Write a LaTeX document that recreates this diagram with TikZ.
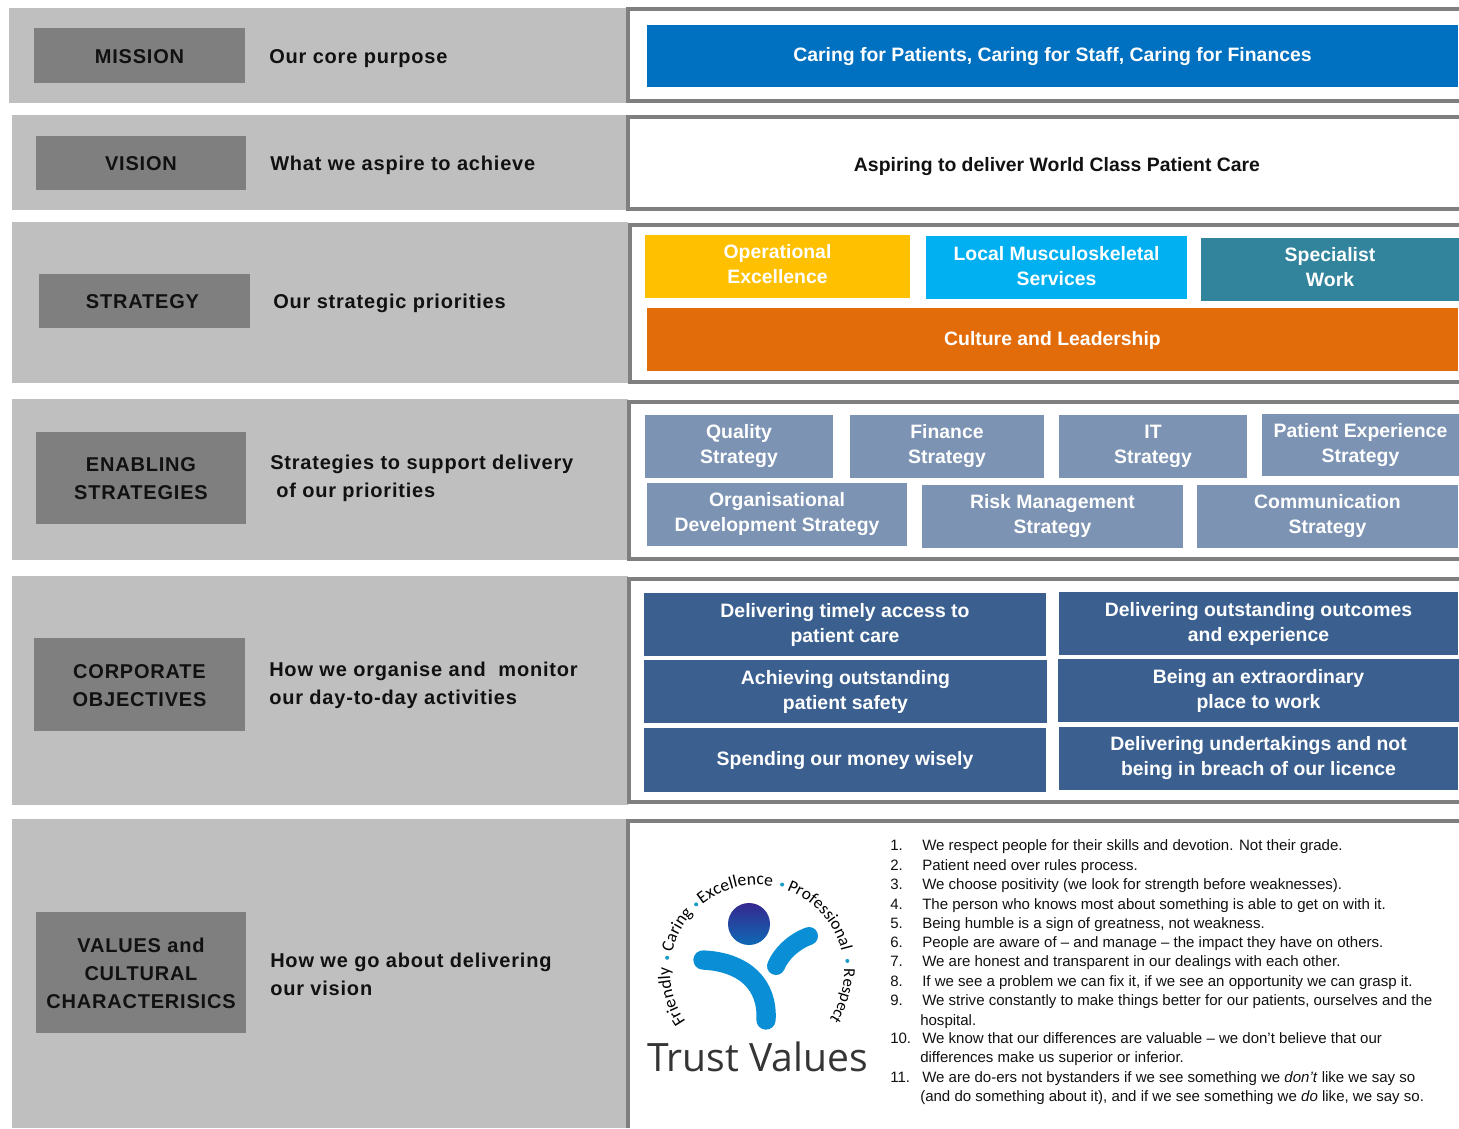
\documentclass[tikz,border=0pt]{standalone}
\usepackage{fontspec}
\usetikzlibrary{decorations.text,calc}
\setmainfont{Liberation Sans}
\newfontfamily\spaced[LetterSpace=4]{Liberation Sans}
\newfontfamily\logofont{Open Sans}
\newfontfamily\arcfont{Carlito}
\definecolor{band}{HTML}{BFBFBF}
\definecolor{frame}{HTML}{7F7F7F}
\definecolor{labelbox}{HTML}{7F7F7F}
\definecolor{ink}{HTML}{111111}
\definecolor{missionblue}{HTML}{0070C0}
\definecolor{opyellow}{HTML}{FFC000}
\definecolor{skyblue}{HTML}{00B0F0}
\definecolor{teal}{HTML}{31849B}
\definecolor{orange}{HTML}{E36C0A}
\definecolor{slateblue}{HTML}{7C93B3}
\definecolor{deepblue}{HTML}{3B6090}
\definecolor{logoblue}{HTML}{0A8FD6}
\definecolor{logodot}{HTML}{1A9CC8}
\definecolor{headtop}{HTML}{35288F}
\definecolor{headbottom}{HTML}{0F69B5}
\tikzset{
  bandbox/.style={fill=band,draw=none},
  panelframe/.style={draw=frame,line width=3pt,fill=white},
  sqbox/.style={inner sep=0pt,outer sep=0pt,align=center,draw=none},
  tag/.style={sqbox,text=ink,font=\spaced\bfseries\fontsize{15}{21}\selectfont},
  hint/.style={inner sep=0pt,anchor=west,align=left,text=ink,font=\spaced\bfseries\fontsize{15}{21}\selectfont},
  pill/.style={sqbox,text=white,font=\bfseries\fontsize{14.55}{18.75}\selectfont},
  rowtext/.style={inner sep=0pt,anchor=base west,yshift=-0.75pt,text=ink,font=\fontsize{11.27}{13}\selectfont},
  logoarc/.style={decorate,decoration={text along path}},
  logodotmark/.style={fill=logodot,draw=none},
}
\newcommand{\pxbox}[7]{%
  \pgfmathsetmacro{\pxcx}{(#3+#5)/2}\pgfmathsetmacro{\pxcy}{(#4+#6)/2}%
  \pgfmathsetmacro{\pxw}{(#5-#3)*0.75}\pgfmathsetmacro{\pxh}{(#6-#4)*0.75}%
  \node[#2,minimum width=\pxw pt,minimum height=\pxh pt] (#1) at (\pxcx,\pxcy) {#7};}
% box with its text moved down by dy pixels: name, style, fill, x1,y1,x2,y2, dy, text
\newcommand{\offbox}[9]{%
  \fill[#3] (#4,#5) rectangle (#6,#7);
  \pgfmathsetmacro{\pxcx}{(#4+#6)/2}\pgfmathsetmacro{\pxcy}{(#5+#7)/2+#8}%
  \node[#2] (#1) at (\pxcx,\pxcy) {#9};}
\newcommand{\logoword}[3]{%
  \path[logoarc,decoration={text={|\arcfont\fontsize{#3}{14}\selectfont|#2}}]
    ($(757,972)+({#1}:87 and -87)$) arc[start angle=-#1,end angle={-#1+75},radius=87];}
\begin{document}
\begin{tikzpicture}[x=0.75pt,y=-0.75pt]
\useasboundingbox (0,0) rectangle (1459,1128);
\fill[white] (0,0) rectangle (1459,1128);
% bands
\fill[bandbox] (9,8) rectangle (628,103);
\fill[bandbox] (12,115) rectangle (628,210);
\fill[bandbox] (12,222) rectangle (628,383);
\fill[bandbox] (12,399) rectangle (628,560);
\fill[bandbox] (12,576) rectangle (628,805);
\fill[bandbox] (12,819) rectangle (628,1128);
% frames
\draw[panelframe] (1459,9) -- (628,9) -- (628,101) -- (1459,101);
\draw[panelframe] (1459,117) -- (628,117) -- (628,209) -- (1459,209);
\draw[panelframe] (1459,225) -- (630,225) -- (630,382) -- (1459,382);
\draw[panelframe] (1459,402) -- (629,402) -- (629,559) -- (1459,559);
\draw[panelframe] (1459,579) -- (629,579) -- (629,802) -- (1459,802);
\draw[panelframe] (1459,821) -- (628,821) -- (628,1128);
% tags
\offbox{tagmission}{tag}{labelbox}{34}{28}{245}{83}{1}{MISSION}
\offbox{tagvision}{tag}{labelbox}{36}{136}{246}{190}{1}{VISION}
\offbox{tagstrategy}{tag}{labelbox}{39}{274}{250}{328}{1}{STRATEGY\hspace*{3pt}}
\offbox{tagenabling}{tag}{labelbox}{36}{432}{246}{524}{1}{ENABLING\\STRATEGIES}
\offbox{tagcorporate}{tag}{labelbox}{34}{638}{245}{731}{1}{CORPORATE\\OBJECTIVES}
\offbox{tagvalues}{tag}{labelbox}{36}{912}{246}{1033}{1}{VALUES and\\CULTURAL\\CHARACTERISICS}
% hints
\node[hint] (hintmission) at (269,59) {Our core purpose};
\node[hint] (hintvision) at (270,165) {What we aspire to achieve};
\node[hint] (hintstrategy) at (273,303) {Our strategic priorities};
\node[hint] (hintenabling) at (270,478) {Strategies to support delivery\\\hspace*{4.5pt}of our priorities};
\node[hint] (hintcorporate) at (269,685) {How we organise and\ \ monitor\\our day-to-day activities};
\node[hint] (hintvalues) at (270,974) {How we go about delivering\\our vision};
% mission, vision
\offbox{mission}{pill}{missionblue}{647}{25}{1458}{87}{1}{Caring for Patients, Caring for Staff, Caring for Finances}
\node[pill,text=ink] (vision) at (1057,167) {Aspiring to deliver World Class Patient Care};
% strategy
\offbox{opex}{pill}{opyellow}{645}{235}{910}{298}{-2}{Operational\\Excellence}
\offbox{localms}{pill}{skyblue}{926}{236}{1187}{299}{-1}{Local Musculoskeletal\\Services}
\offbox{specialist}{pill}{teal}{1201}{238}{1459}{301}{-2}{Specialist\\Work}
\offbox{culture}{pill}{orange}{647}{308}{1458}{371}{1}{Culture and Leadership}
% enabling
\pxbox{quality}{pill,fill=slateblue}{645}{415}{833}{478}{Quality\\Strategy}
\pxbox{finance}{pill,fill=slateblue}{850}{415}{1044}{478}{Finance\\Strategy}
\pxbox{itstrat}{pill,fill=slateblue}{1059}{415}{1247}{478}{IT\\Strategy}
\pxbox{patientexp}{pill,fill=slateblue}{1262}{414}{1459}{476}{Patient Experience\\Strategy}
\pxbox{orgdev}{pill,fill=slateblue}{647}{483}{907}{546}{Organisational\\Development Strategy}
\pxbox{risk}{pill,fill=slateblue}{922}{485}{1183}{548}{Risk Management\\Strategy}
\pxbox{comm}{pill,fill=slateblue}{1197}{485}{1458}{548}{Communication\\Strategy}
% objectives
\pxbox{obja}{pill,fill=deepblue}{644}{593}{1046}{656}{Delivering timely access to\\patient care}
\pxbox{objb}{pill,fill=deepblue}{1059}{592}{1458}{655}{Delivering outstanding outcomes\\and experience}
\pxbox{objc}{pill,fill=deepblue}{644}{660}{1047}{723}{Achieving outstanding\\patient safety}
\pxbox{objd}{pill,fill=deepblue}{1058}{659}{1459}{722}{Being an extraordinary\\place to work}
\offbox{obje}{pill}{deepblue}{644}{728}{1046}{792}{1}{Spending our money wisely}
\pxbox{objf}{pill,fill=deepblue}{1059}{727}{1458}{790}{Delivering undertakings and not\\being in breach of our licence}
% logo
\shade[top color=headtop,bottom color=headbottom] (749,924) circle[radius=21];
\draw[logoblue,line width=14.5pt,line cap=round] (703,960) .. controls (745,962) and (768,985) .. (766,1020);
\draw[logoblue,line width=13.5pt,line cap=round] (776,966) .. controls (781,954) and (793,942) .. (809,936);
\logoword{215}{Friendly}{13.2}
\logoword{167}{Caring}{13}
\logoword{129}{Excellence}{13.2}
\logoword{70}{Professional}{12.9}
\logoword{2}{Respect}{12.5}
\fill[logodotmark] ($(757,972)+(171:91 and -91)$) circle[radius=2];
\fill[logodotmark] ($(757,972)+(132:91 and -91)$) circle[radius=2];
\fill[logodotmark] ($(757,972)+(74:91 and -91)$) circle[radius=2];
\fill[logodotmark] ($(757,972)+(7:91 and -91)$) circle[radius=2];
\node[inner sep=0pt,anchor=base,text=ink!85!white,font=\logofont\fontsize{29.3}{32}\selectfont] (trustvalues) at (757.5,1071) {Trust Values};
% list
\node[rowtext] (n1) at (890,849) {1.};
\node[rowtext] (t1) at (922,849) {We respect people for their skills and devotion. Not their grade.};
\node[rowtext] (n2) at (890,869) {2.};
\node[rowtext] (t2) at (922,869) {Patient need over rules process.};
\node[rowtext] (n3) at (890,888) {3.};
\node[rowtext] (t3) at (922,888) {We choose positivity (we look for strength before weaknesses).};
\node[rowtext] (n4) at (890,908) {4.};
\node[rowtext] (t4) at (922,908) {The person who knows most about something is able to get on with it.};
\node[rowtext] (n5) at (890,927) {5.};
\node[rowtext] (t5) at (922,927) {Being humble is a sign of greatness, not weakness.};
\node[rowtext] (n6) at (890,946) {6.};
\node[rowtext] (t6) at (922,946) {People are aware of – and manage – the impact they have on others.};
\node[rowtext] (n7) at (890,965) {7.};
\node[rowtext] (t7) at (922,965) {We are honest and transparent in our dealings with each other.};
\node[rowtext] (n8) at (890,985) {8.};
\node[rowtext] (t8) at (922,985) {If we see a problem we can fix it, if we see an opportunity we can grasp it.};
\node[rowtext] (n9) at (890,1004) {9.};
\node[rowtext] (t9) at (922,1004) {We strive constantly to make things better for our patients, ourselves and the};
\node[rowtext] (t9b) at (920,1024) {hospital.};
\node[rowtext] (n10) at (890,1042) {10.};
\node[rowtext] (t10) at (922,1042) {We know that our differences are valuable – we don’t believe that our};
\node[rowtext] (t10b) at (920,1061) {differences make us superior or inferior.};
\node[rowtext] (n11) at (890,1081) {11.};
\node[rowtext] (t11) at (922,1081) {We are do-ers not bystanders if we see something we \textit{don’t} like we say so};
\node[rowtext] (t11b) at (920,1100) {(and do something about it), and if we see something we \textit{do} like, we say so.};
\end{tikzpicture}
\end{document}
